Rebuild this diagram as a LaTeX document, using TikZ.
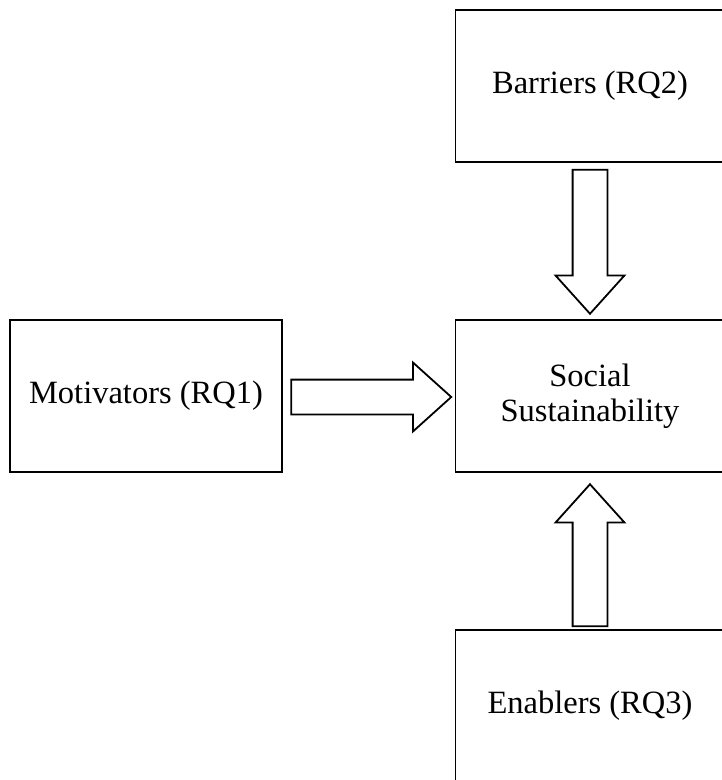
\documentclass[tikz,border=0pt]{standalone}
\usepackage{fontspec}
\setmainfont{Liberation Serif}
\usetikzlibrary{shapes.arrows,calc}
\tikzstyle{box}=[draw,line width=1.8pt,minimum width=269pt,minimum height=152pt,inner sep=0pt,align=center,font=\fontsize{32.5pt}{35pt}\selectfont]
\tikzstyle{bigarrow}=[draw,line width=1.8pt,single arrow,inner xsep=0pt,inner ysep=16.5pt,single arrow head extend=17pt,single arrow tip angle=84]

\begin{document}
\begin{tikzpicture}[x=1pt,y=-1pt]
				\useasboundingbox (0,0) rectangle (722,780);
				% First we draw the boxes
				\foreach \pos/\name/\txt in {{(590,86)/barriers/{Barriers (RQ2)}}, {(590,396)/social/{Social\\Sustainability}},
										{(590,706)/enablers/{Enablers (RQ3)}}}
				\node[box] (\name) at \pos {\txt};
				\node[box, minimum width=272pt] (motiv) at (146,396) {Motivators (RQ1)};
	
				% Then the block arrows pointing at the centre box
				\node[bigarrow, minimum height=144pt, rotate=-90, anchor=tip] (down) at ($(social.north)+(0,-4)$) {};
				\node[bigarrow, minimum height=142pt, rotate=90, anchor=tip] (up) at ($(social.south)+(0,10)$) {};
				\node[bigarrow, minimum height=160pt, anchor=tip] (right) at ($(social.west)+(-2,1)$) {};
			\end{tikzpicture}
\end{document}
